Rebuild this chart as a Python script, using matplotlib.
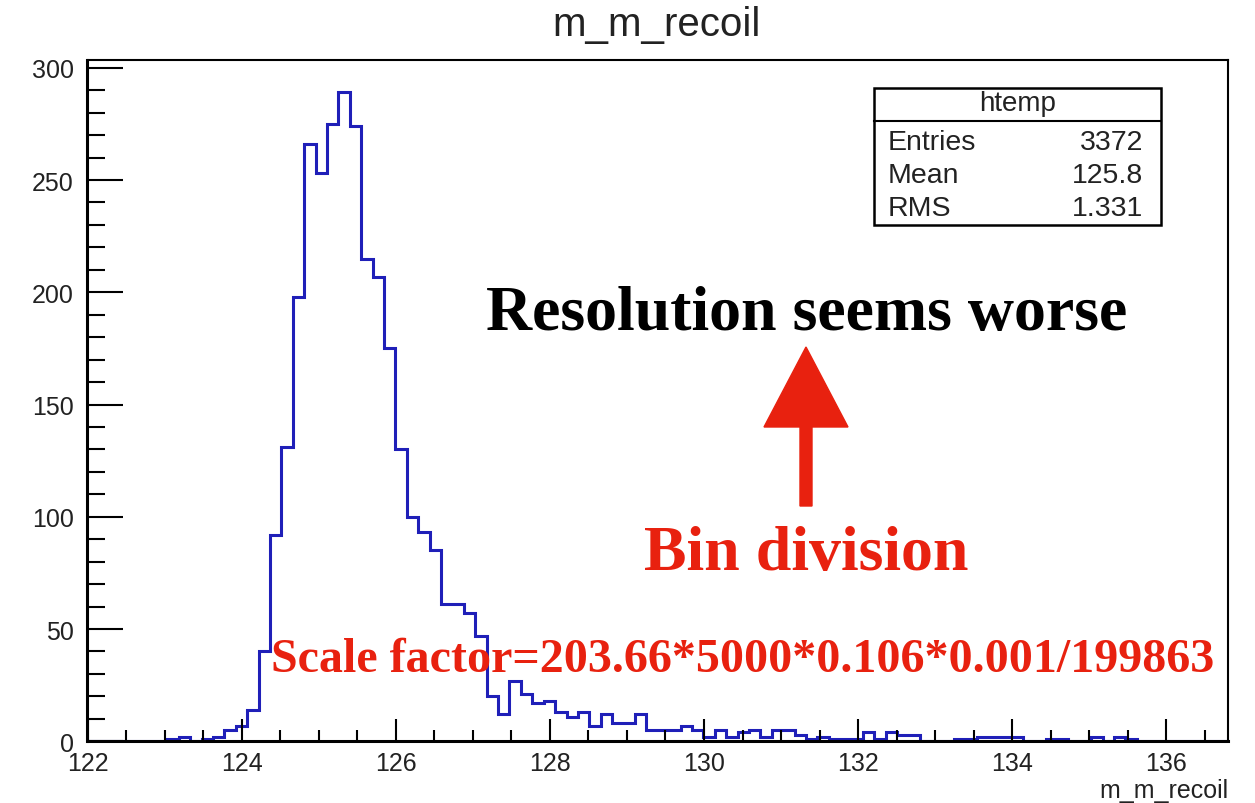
import numpy as np
import matplotlib.pyplot as plt
from matplotlib.patches import FancyArrow, Rectangle
from matplotlib.ticker import MultipleLocator

# recoil mass histogram, 100 bins between 122 and 136.8
x_lo = 122.0
x_hi = 136.8
n_bins = 100
counts = [0, 0, 0, 0, 0, 0, 0, 1, 2, 0,
          1, 2, 5, 7, 14, 40, 92, 131, 198, 266,
          253, 275, 289, 274, 215, 207, 175, 130, 100, 93,
          85, 61, 61, 57, 47, 20, 12, 27, 21, 17,
          18, 13, 11, 13, 7, 12, 8, 8, 12, 5,
          5, 5, 7, 5, 2, 5, 2, 4, 5, 2,
          5, 5, 3, 1, 2, 1, 1, 1, 4, 1,
          4, 3, 3, 0, 0, 0, 1, 1, 2, 2,
          2, 2, 0, 0, 1, 1, 0, 0, 2, 0,
          2, 1, 0, 0, 0, 0, 0, 0, 0, 0]

stat_names = ["Entries", "Mean", "RMS"]
stat_values = ["3372", "125.8", "1.331"]

red = '#e8210f'
blue = '#1f1fb8'
sans = 'Liberation Sans'
serif = 'Liberation Serif'

edges = np.linspace(x_lo, x_hi, n_bins + 1)

fig = plt.figure(figsize=(12.55, 8.04), dpi=100)
ax = fig.add_axes([87.5 / 1255, 1 - 742.3 / 804, (1228 - 87.5) / 1255, (742.3 - 61) / 804])

ax.stairs(counts, edges, color=blue, linewidth=2.2)
ax.set_xlim(x_lo, x_hi)
ax.set_ylim(0, 1.05 * max(counts))

# ROOT-like axes: ticks inside, only on bottom and left
ax.xaxis.set_major_locator(MultipleLocator(2))
ax.xaxis.set_minor_locator(MultipleLocator(0.5))
ax.yaxis.set_major_locator(MultipleLocator(50))
ax.yaxis.set_minor_locator(MultipleLocator(10))
ax.tick_params(axis='x', which='major', direction='in', length=16, width=1.5, pad=7,
               labelsize=18, labelcolor='#222222')
ax.tick_params(axis='x', which='minor', direction='in', length=8, width=1.5)
ax.tick_params(axis='y', which='major', direction='in', length=26, width=1.5, pad=10,
               labelsize=18, labelcolor='#222222')
ax.tick_params(axis='y', which='minor', direction='in', length=13, width=1.5)
for lab in ax.get_xticklabels() + ax.get_yticklabels():
    lab.set_family(sans)
for side in ['left', 'bottom']:
    ax.spines[side].set_linewidth(2.2)
for side in ['right', 'top']:
    ax.spines[side].set_linewidth(1.5)

fig.text(657 / 1255, 1 - 25 / 804, "m_m_recoil", ha='center', va='center',
         fontsize=29, family=sans, color='#222222')
fig.text(1228 / 1255, 1 - 791 / 804, "m_m_recoil", ha='right', va='center',
         fontsize=18, family=sans, color='#222222')

# stats box
bx0, by0, bw, bh = 874, 89, 287, 137
fig.patches.append(Rectangle((bx0 / 1255, 1 - (by0 + bh) / 804), bw / 1255, bh / 804,
                             transform=fig.transFigure, facecolor='white',
                             edgecolor='black', linewidth=1.8))
fig.add_artist(plt.Line2D([bx0 / 1255, (bx0 + bw) / 1255], [1 - 122 / 804, 1 - 122 / 804],
                          transform=fig.transFigure, color='black', linewidth=1.5))
fig.text((bx0 + bw / 2) / 1255, 1 - 104 / 804, "htemp", ha='center', va='center',
         fontsize=20, family=sans, color='#222222')
for i, (name, val) in enumerate(zip(stat_names, stat_values)):
    yy = 1 - (143 + 33 * i) / 804
    fig.text(888 / 1255, yy, name, ha='left', va='center', fontsize=20.5, family=sans, color='#222222')
    fig.text(1143 / 1255, yy, val, ha='right', va='center', fontsize=20.5, family=sans, color='#222222')

# annotations
fig.text(807 / 1255, 1 - 315 / 804, "Resolution seems worse", ha='center', va='center',
         fontsize=46, family=serif, weight='bold', color='black')
fig.text(806 / 1255, 1 - 555 / 804, "Bin division", ha='center', va='center',
         fontsize=46, family=serif, weight='bold', color=red)
fig.text(743 / 1255, 1 - 660 / 804, "Scale factor=203.66*5000*0.106*0.001/199863",
         ha='center', va='center', fontsize=34.6, family=serif, weight='bold', color=red)

arrow = FancyArrow(8.06, 2.97, 0, 1.59, width=0.12, head_width=0.84, head_length=0.80,
                   length_includes_head=True, color=red, transform=fig.dpi_scale_trans)
fig.patches.append(arrow)

plt.savefig('out.png', dpi=100)
